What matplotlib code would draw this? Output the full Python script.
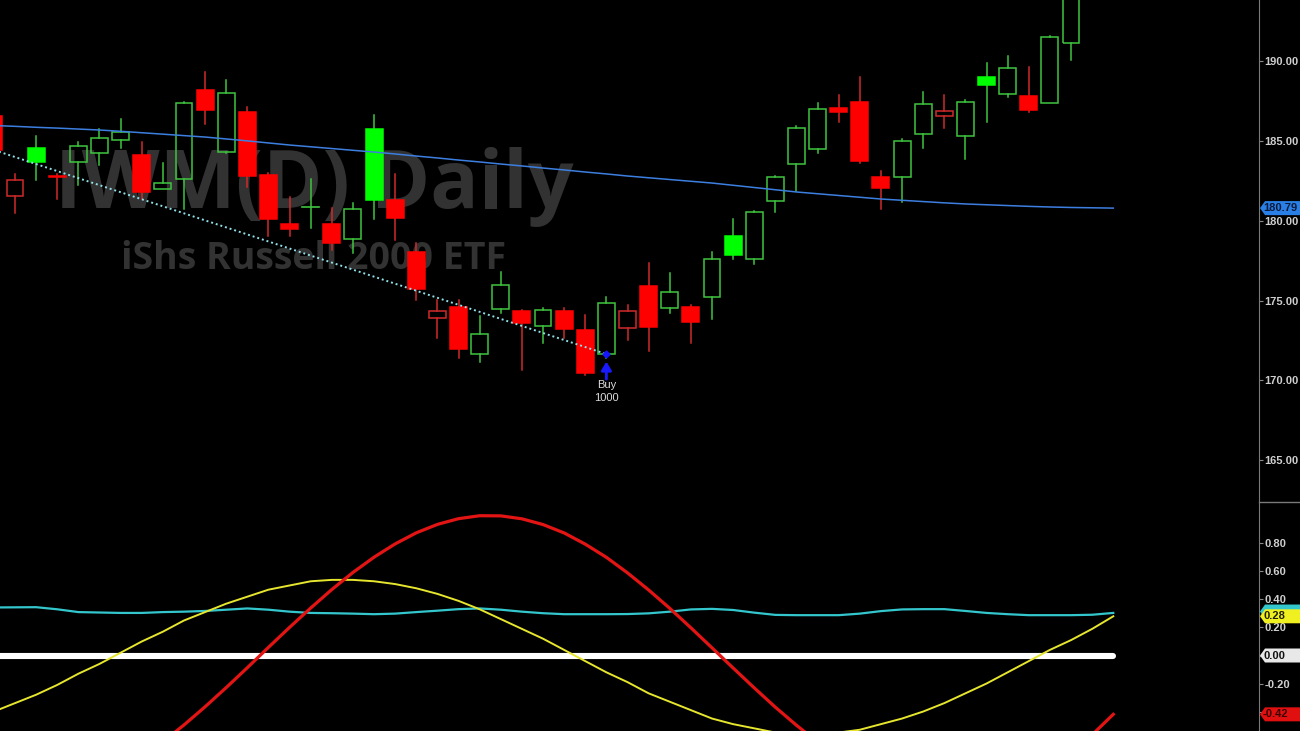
import matplotlib
matplotlib.use("Agg")
import matplotlib.pyplot as plt
import matplotlib.transforms as mtransforms
from matplotlib.patches import Rectangle, Polygon
from matplotlib.lines import Line2D

# IWM diario - velas (barra 0..51)
opens = [186.56, 181.57, 184.57, 182.80, 183.68, 184.26, 185.05, 184.11, 181.97, 182.63,
         188.18, 184.30, 186.83, 182.86, 179.77, 180.82, 179.77, 178.84, 185.72, 181.30,
         178.04, 173.93, 174.61, 171.65, 174.45, 174.36, 173.43, 174.36, 173.16, 171.65,
         173.30, 175.93, 174.55, 174.61, 175.24, 179.04, 177.60, 181.25, 183.53, 184.47,
         187.04, 187.45, 182.76, 182.72, 185.43, 186.56, 185.32, 188.98, 187.91, 187.83,
         187.39, 191.15]
highs = [187.00, 182.92, 185.30, 182.92, 184.95, 185.72, 186.37, 184.95, 183.63, 187.45,
         189.31, 188.81, 187.10, 183.00, 181.50, 182.61, 180.78, 181.09, 186.62, 182.92,
         178.58, 175.03, 175.03, 174.05, 176.81, 174.41, 174.51, 174.51, 174.10, 175.24,
         174.72, 177.33, 176.71, 174.72, 178.02, 180.11, 180.61, 182.82, 185.93, 187.35,
         187.87, 189.02, 183.11, 185.12, 188.08, 187.87, 187.56, 189.86, 190.31, 189.61,
         191.57, 195.00]
lows = [184.00, 180.46, 182.55, 181.34, 182.24, 183.49, 184.57, 181.34, 181.97, 180.75,
        186.06, 184.24, 182.09, 179.04, 179.04, 179.52, 178.17, 177.96, 180.09, 178.79,
        175.03, 172.64, 171.38, 171.17, 174.20, 170.65, 172.32, 172.64, 170.34, 171.38,
        172.53, 171.86, 174.24, 172.32, 173.83, 177.58, 177.27, 180.56, 181.88, 184.26,
        186.20, 183.63, 180.71, 181.19, 184.53, 185.79, 183.84, 186.20, 187.73, 186.83,
        187.39, 190.06]
closes = [184.43, 182.55, 183.68, 182.72, 184.68, 185.20, 185.55, 181.82, 182.34, 187.35,
          186.93, 188.00, 182.80, 180.09, 179.50, 180.86, 178.58, 180.71, 181.30, 180.19,
          175.72, 174.35, 171.97, 172.90, 175.97, 173.58, 174.41, 173.20, 170.48, 174.87,
          174.36, 173.36, 175.55, 173.64, 177.58, 177.85, 180.53, 182.76, 185.82, 187.01,
          186.79, 183.76, 182.03, 185.01, 187.31, 186.89, 187.45, 188.50, 189.54, 186.93,
          191.48, 194.60]

# media movil (barras 0..53)
ma_vals = [185.96, 185.91, 185.85, 185.80, 185.74, 185.68, 185.60, 185.51, 185.42, 185.33,
           185.24, 185.12, 185.00, 184.87, 184.74, 184.63, 184.52, 184.41, 184.30, 184.18,
           184.05, 183.93, 183.80, 183.68, 183.55, 183.43, 183.30, 183.18, 183.05, 182.93,
           182.80, 182.69, 182.58, 182.47, 182.36, 182.22, 182.08, 181.94, 181.80, 181.69,
           181.58, 181.47, 181.36, 181.28, 181.20, 181.12, 181.05, 181.00, 180.95, 180.90,
           180.86, 180.83, 180.81, 180.79]

# linea de tendencia y compra
trend_x = [0, 29]
trend_y = [184.43, 171.65]
buy_bar = 29
buy_qty = 1000

# indicador inferior (barras 0..53)
sine_red = [-0.970, -0.995, -0.999, -0.983, -0.946, -0.889, -0.815, -0.723, -0.616, -0.496,
            -0.366, -0.229, -0.087, 0.058, 0.201, 0.339, 0.471, 0.593, 0.702, 0.797,
            0.876, 0.936, 0.977, 0.998, 0.997, 0.976, 0.935, 0.875, 0.795, 0.701,
            0.590, 0.468, 0.337, 0.198, 0.055, -0.089, -0.231, -0.369, -0.498, -0.617,
            -0.725, -0.817, -0.890, -0.947, -0.983, -0.999, -0.995, -0.970, -0.924, -0.859,
            -0.777, -0.678, -0.566, -0.420]
sine_yel = [-0.40, -0.34, -0.28, -0.21, -0.13, -0.06, 0.02, 0.10, 0.17, 0.25,
            0.31, 0.37, 0.42, 0.47, 0.50, 0.53, 0.54, 0.54, 0.53, 0.51,
            0.48, 0.44, 0.39, 0.33, 0.26, 0.19, 0.12, 0.04, -0.04, -0.12,
            -0.19, -0.27, -0.33, -0.39, -0.45, -0.49, -0.52, -0.55, -0.56, -0.56,
            -0.55, -0.53, -0.49, -0.45, -0.40, -0.34, -0.27, -0.20, -0.12, -0.04,
            0.04, 0.11, 0.19, 0.28]
cyan_vals = [0.343, 0.344, 0.345, 0.330, 0.310, 0.307, 0.304, 0.304, 0.310, 0.313,
             0.318, 0.327, 0.336, 0.327, 0.313, 0.304, 0.302, 0.299, 0.295, 0.299,
             0.310, 0.320, 0.331, 0.336, 0.327, 0.313, 0.302, 0.295, 0.295, 0.295,
             0.296, 0.301, 0.313, 0.329, 0.333, 0.325, 0.306, 0.290, 0.288, 0.288,
             0.288, 0.299, 0.317, 0.329, 0.331, 0.331, 0.318, 0.304, 0.295, 0.288,
             0.288, 0.288, 0.291, 0.304]

price_ticks = [165, 170, 175, 180, 185, 190]
ind_ticks = [0.8, 0.6, 0.4, 0.2, 0.0, -0.2, -0.4]
ind_hidden = [0.0, -0.4]   # tapadas por las etiquetas de valor

title1 = "IWM(D) Daily"
title2 = "iShs Russell 2000 ETF"

W, H = 1300, 731
axw = 1259 / W
split = 229 / H
lab_font = dict(family="Liberation Sans", fontweight="bold", fontsize=8)

fig = plt.figure(figsize=(13, 7.31), dpi=100, facecolor="black")
ax1 = fig.add_axes([0, split, axw, 1 - split])
ax2 = fig.add_axes([0, 0, axw, split])

for ax in (ax1, ax2):
    ax.set_facecolor("black")
    for s in ("left", "top", "bottom"):
        ax.spines[s].set_visible(False)
    ax.spines["right"].set_color("#7a7a7a")
    ax.yaxis.tick_right()
    ax.tick_params(axis="y", colors="#8a8a8a", labelcolor="#cfcfcf", length=3, pad=1)
    ax.set_xticks([])

# marca de agua
ax1.text(0.2494, 0.628, title1, transform=ax1.transAxes, ha="center", va="center",
         fontsize=58, fontweight="bold", family="Open Sans", color="#323232", zorder=0)
ax1.text(0.2494, 0.484, title2, transform=ax1.transAxes, ha="center", va="center",
         fontsize=27, fontweight="bold", family="Open Sans", color="#323232", zorder=0)

# velas
g_fill, g_line = "#00ff00", "#3fc43f"
r_fill, r_line = "#ff0000", "#d02a2a"
bw = 0.8
for i in range(len(closes)):
    o, h, l, c = opens[i], highs[i], lows[i], closes[i]
    prev = closes[i - 1] if i > 0 else o
    up = c >= prev
    filled = c < o
    lc = g_line if up else r_line
    fc = (g_fill if up else r_fill) if filled else "none"
    top, bot = max(o, c), min(o, c)
    ax1.plot([i, i], [top, h], color=lc, lw=1.1, zorder=2)
    ax1.plot([i, i], [l, bot], color=lc, lw=1.1, zorder=2)
    if top - bot < 0.08:
        ax1.plot([i - bw / 2, i + bw / 2], [c, c], color=lc if not filled else fc,
                 lw=2.5 if filled else 1.2, zorder=3)
    else:
        ax1.add_patch(Rectangle((i - bw / 2, bot), bw, top - bot, facecolor=fc,
                                edgecolor=(fc if filled else lc), lw=1.1, zorder=3))

xs = list(range(len(ma_vals)))
ax1.plot(xs, ma_vals, color="#3d7fe0", lw=1.1, zorder=4)
ax1.plot(trend_x, trend_y, color="#8fe0e8", lw=1.4, ls=(0, (1, 1.5)), zorder=4)
ax1.plot(trend_x[-1], trend_y[-1], marker="D", ms=3.5, color="#1515ff", zorder=5)

# compra
bl = lows[buy_bar]
ax1.annotate("", xy=(buy_bar, bl - 0.2), xytext=(buy_bar, bl - 1.3),
             arrowprops=dict(arrowstyle="-|>,head_length=0.5,head_width=0.3",
                             color="#1a1aff", lw=2.0, shrinkA=0, shrinkB=0), zorder=5)
ax1.text(buy_bar, bl - 1.64, "Buy", ha="center", va="center", color="#dcdcdc",
         fontsize=8, family="Liberation Sans")
ax1.text(buy_bar, bl - 2.45, str(buy_qty), ha="center", va="center", color="#dcdcdc",
         fontsize=8, family="Liberation Sans")

# indicador
ax2.plot(xs, [0] * len(xs), color="white", lw=4.4, solid_capstyle="round", zorder=2)
ax2.plot(xs, cyan_vals, color="#33c6cc", lw=1.6, zorder=3)
ax2.plot(xs, sine_yel, color="#e6e62e", lw=1.4, zorder=4)
ax2.plot(xs, sine_red, color="#e31414", lw=2.3, zorder=5)


def tag(ax, y, text, fc, tc, h):
    tr = mtransforms.blended_transform_factory(ax.transAxes, ax.transData)
    x0 = 1.0008
    xp = x0 + 5 / 1259
    x1 = W / 1259
    ax.add_patch(Polygon([(x0, y), (xp, y + h), (x1, y + h), (x1, y - h), (xp, y - h)],
                         closed=True, transform=tr, facecolor=fc, edgecolor="none",
                         clip_on=False, zorder=10))
    if text:
        ax.text(x0 + 3 / 1259, y, text, transform=tr, color=tc, va="center", ha="left",
                clip_on=False, zorder=11, **lab_font)


ax1.set_xlim(0.289, 59.9)
ax2.set_xlim(0.289, 59.9)
ax1.set_ylim(162.39, 193.82)
ax2.set_ylim(-0.539, 1.096)
ax1.set_yticks(price_ticks)
ax1.set_yticklabels([f"{t:.2f}" for t in price_ticks], **lab_font)
ax2.set_yticks(ind_ticks)
ax2.set_yticklabels(["" if t in ind_hidden else f"{t:.2f}" for t in ind_ticks], **lab_font)

tag(ax1, ma_vals[-1], f"{ma_vals[-1]:.2f}", "#2a7fe6", "#0b1a3a", 0.44)
tag(ax2, cyan_vals[-1] + 0.01, "", "#33c6cc", "#0a2a2a", 0.05)
tag(ax2, sine_yel[-1], f"{sine_yel[-1]:.2f}", "#f0f020", "#202000", 0.05)
tag(ax2, 0.0, "0.00", "#e8e8e8", "#111111", 0.05)
tag(ax2, sine_red[-1], f"{sine_red[-1]:.2f}", "#e01010", "#3a0000", 0.05)

fig.add_artist(Line2D([axw, 1], [split, split], color="#7a7a7a", lw=1,
                      transform=fig.transFigure))

plt.savefig("out.png", dpi=100, facecolor="black")
